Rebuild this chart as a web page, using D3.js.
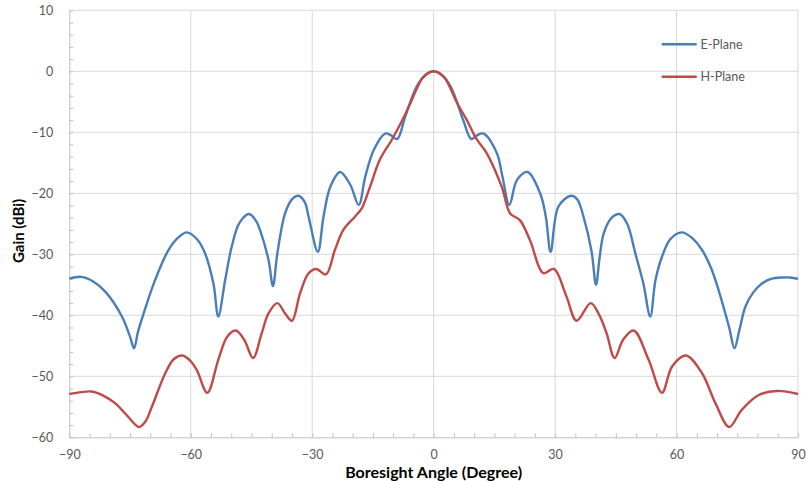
<!DOCTYPE html>
<html>
<head>
<meta charset="utf-8">
<script src="https://cdn.jsdelivr.net/npm/d3@7"></script>
<style>
  html, body { margin: 0; padding: 0; background: #ffffff; }
  svg { display: block; }
</style>
</head>
<body>
<svg id="chart" width="808" height="481"></svg>
<script>
// Radiation pattern, gain (dBi) versus boresight angle (degrees)
const ePlaneAngle = [
  -90, -87, -84, -81, -77, -75, -74, -73, -71.3, -68.8, -65.5, -63, -61, -58.5, -56.5, -54.4, -53.2, -51.5,
  -49.9, -48, -45.6, -43.8, -42.9, -40.8, -39.7, -38.6, -36.7, -35, -33.4, -31.8, -30.9, -28.6, -27.2, -25.5,
  -23.1, -20.6, -18.5, -16.9, -14.8, -12, -10.5, -9, -7, -4.2, -1.7, 0,
  1.7, 4.2, 7.3, 9.3, 10.7, 12.3, 15.6, 17, 18.7, 20.6, 23.2, 26.3, 27.7, 28.9, 30.8, 33.9, 35.5, 37,
  39, 40.1, 41, 42, 44, 45.9, 47.8, 49.8, 51.8, 53.5, 54.8, 56.4, 58.5, 61.3, 63.8, 66.3, 68.5, 70.4,
  73, 74.3, 75.5, 77, 79, 81.1, 83.5, 86.1, 88, 90
];
const ePlaneGain = [
  -34.0, -33.7, -34.5, -36.2, -40.2, -43.5, -45.4, -42.6, -39.0, -34.2, -29.3, -27.2, -26.4, -27.5, -29.8, -34.8, -40.2, -34.2,
  -28.8, -24.9, -23.4, -24.6, -26.0, -30.9, -35.2, -29.8, -23.3, -21.0, -20.4, -21.5, -23.8, -29.6, -23.8, -18.9,
  -16.5, -18.6, -21.9, -17.3, -12.9, -10.2, -10.5, -11.1, -7.4, -2.5, -0.4, 0,
  -0.4, -2.5, -8.0, -11.1, -10.5, -10.2, -13.4, -17.3, -21.9, -17.8, -16.5, -20.0, -23.8, -29.6, -22.2, -20.4, -21.0, -23.8,
  -29.5, -35.0, -30.5, -26.6, -24.0, -23.4, -25.0, -29.8, -34.8, -40.2, -34.2, -30.4, -27.5, -26.4, -27.3, -29.3, -32.2, -35.9,
  -42.0, -45.4, -42.5, -38.6, -36.2, -34.8, -34.0, -33.8, -33.8, -34.0
];
const hPlaneAngle = [
  -90, -87, -84.5, -81.5, -78.7, -75.5, -72.8, -71.2, -69.6, -66.3, -64.2, -62.1, -60.2, -58.5, -55.9, -53.2,
  -51, -48.9, -46.8, -44.6, -42.5, -40.8, -38.6, -36.7, -35, -33, -30.9, -29, -26.6, -24.4, -22.3, -19.4,
  -17.8, -15.7, -13.3, -10.4, -7.5, -5.8, -4, -2.6, 0,
  2.6, 4, 5.8, 8.2, 10.5, 13.1, 16.8, 18.9, 21.3, 23.8, 27.1, 29.7, 32.8, 35.3, 38.8, 40.8, 42.7, 44.7,
  46.8, 49.4, 53.1, 56.4, 58.9, 62.3, 66.3, 69.6, 73, 76.1, 80.2, 84.8, 90
];
const hPlaneGain = [
  -52.9, -52.6, -52.5, -53.2, -54.4, -56.6, -58.3, -57.4, -55.0, -49.5, -47.2, -46.6, -47.4, -49.0, -52.7, -47.3,
  -43.5, -42.5, -44.0, -47.0, -43.0, -39.7, -38.0, -39.7, -40.9, -36.4, -33.1, -32.4, -33.3, -29.3, -26.0, -23.8,
  -22.5, -18.9, -14.5, -11.3, -7.7, -5.3, -2.6, -1.0, 0,
  -1.0, -2.6, -5.2, -8.0, -11.0, -13.4, -18.9, -23.3, -24.4, -27.7, -33.1, -32.4, -36.9, -40.9, -38.0, -39.8, -42.9, -47.0,
  -44.0, -42.5, -47.3, -52.7, -48.4, -46.6, -49.5, -54.4, -58.3, -55.5, -53.1, -52.4, -52.9
];
const seriesNames = ["E-Plane", "H-Plane"];
const seriesColors = ["#4a7ebb", "#be4b48"];
const xTickValues = [-90, -60, -30, 0, 30, 60, 90];
const yTickValues = [-60, -50, -40, -30, -20, -10, 0, 10];

const svg = d3.select("#chart");
const fontFamily = "Lato, 'Open Sans', 'Liberation Sans', sans-serif";

const x = d3.scaleLinear().domain([-90, 90]).range([69.3, 798]);
const y = d3.scaleLinear().domain([-60, 10]).range([437.3, 10.3]);

const gridColor = "#d9d9d9";
const axisColor = "#bfbfbf";
const labelColor = "#595959";

// gridlines
const grid = svg.append("g");
grid.selectAll("line.h").data(yTickValues.filter(v => v > -60)).join("line")
  .attr("x1", x(-90)).attr("x2", x(90))
  .attr("y1", d => y(d)).attr("y2", d => y(d))
  .attr("stroke", gridColor).attr("stroke-width", 1);
grid.selectAll("line.v").data(xTickValues.filter(v => v > -90)).join("line")
  .attr("x1", d => x(d)).attr("x2", d => x(d))
  .attr("y1", y(10)).attr("y2", y(-60))
  .attr("stroke", gridColor).attr("stroke-width", 1);

// minor ticks (inward) and axis lines
const xMinor = svg.append("g").attr("transform", `translate(0,${y(-60)})`)
  .call(d3.axisBottom(x).tickValues(d3.range(-90, 91, 5)).tickSize(-4).tickSizeOuter(0).tickFormat(""));
const yMinor = svg.append("g").attr("transform", `translate(${x(-90)},0)`)
  .call(d3.axisLeft(y).tickValues(d3.range(-60, 11, 2)).tickSize(-4).tickSizeOuter(0).tickFormat(""));
[xMinor, yMinor].forEach(g => {
  g.selectAll("line").attr("stroke", axisColor);
  g.select(".domain").attr("stroke", axisColor);
});

// tick labels
const xLabels = svg.append("g").attr("transform", `translate(0,${y(-60)})`)
  .call(d3.axisBottom(x).tickValues(xTickValues).tickSize(0).tickPadding(12.5).tickFormat(d3.format("d")));
const yLabels = svg.append("g").attr("transform", `translate(${x(-90)},0)`)
  .call(d3.axisLeft(y).tickValues(yTickValues).tickSize(0).tickPadding(16).tickFormat(d3.format("d")));
[xLabels, yLabels].forEach(g => {
  g.select(".domain").remove();
  g.selectAll("text").attr("fill", labelColor).style("font-family", fontFamily).style("font-size", "12.5px");
});

// series
const line = d3.line().x(d => x(d[0])).y(d => y(d[1])).curve(d3.curveCatmullRom.alpha(0.5));
const series = [
  d3.zip(ePlaneAngle, ePlaneGain),
  d3.zip(hPlaneAngle, hPlaneGain)
];
svg.append("g").selectAll("path").data(series).join("path")
  .attr("d", line)
  .attr("fill", "none")
  .attr("stroke", (d, i) => seriesColors[i])
  .attr("stroke-width", 2.4)
  .attr("stroke-linejoin", "round");

// legend
const legend = svg.append("g");
const legendRows = [44.3, 76.7];
seriesNames.forEach((name, i) => {
  legend.append("line")
    .attr("x1", 661.7).attr("x2", 696.7)
    .attr("y1", legendRows[i]).attr("y2", legendRows[i])
    .attr("stroke", seriesColors[i]).attr("stroke-width", 2.4);
  legend.append("text")
    .attr("x", 700.5).attr("y", legendRows[i]).attr("dy", "0.35em")
    .attr("fill", labelColor)
    .style("font-family", fontFamily).style("font-size", "12.5px")
    .text(name);
});

// axis titles
svg.append("text")
  .attr("x", (x(-90) + x(90)) / 2).attr("y", 477.5)
  .attr("text-anchor", "middle")
  .attr("fill", "#000")
  .style("font-family", fontFamily).style("font-size", "16px").style("font-weight", "bold")
  .text("Boresight Angle (Degree)");
svg.append("text")
  .attr("transform", "translate(24,231) rotate(-90)")
  .attr("text-anchor", "middle")
  .attr("fill", "#000")
  .style("font-family", fontFamily).style("font-size", "15px").style("font-weight", "bold")
  .text("Gain (dBi)");
</script>
</body>
</html>
